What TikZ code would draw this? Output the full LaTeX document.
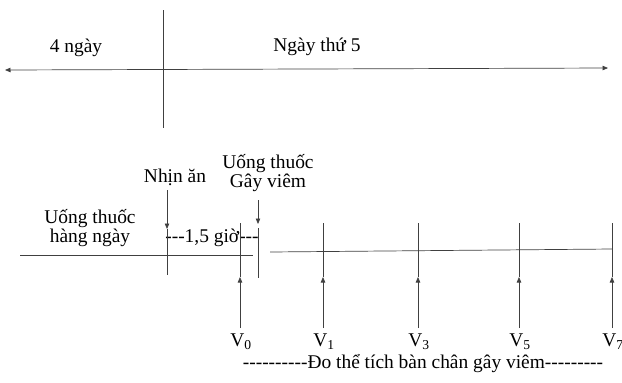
\documentclass[tikz,border=0pt]{standalone}
\usepackage{fontspec}
\setmainfont{Liberation Serif}
\usetikzlibrary{arrows.meta}

\begin{document}
\begin{tikzpicture}[x=1bp, y=-1bp,
  font=\fontsize{19.5}{22}\selectfont,
  ln/.style={draw=black!75, line width=0.7bp},
  tip/.tip={Triangle[length=5.5bp, width=4.5bp]},
  a/.style={ln, -tip},
  lbl/.style={inner sep=0pt, align=center}
]
\useasboundingbox (0,0) rectangle (622,382);
% days
\coordinate (dl) at (5,70);
\coordinate (dr) at (608,68);
\coordinate (dt) at (163,10);
\coordinate (db) at (163,128);
\draw[ln, tip-tip] (dl) -- (dr);
\draw[ln] (dt) -- (db);
\node[lbl] (four) at (76,48) {4 ngày};
\node[lbl] (fifth) at (317,47) {Ngày thứ 5};
% time line
\coordinate (ll) at (20,255);
\coordinate (lr) at (253,255);
\coordinate (rl) at (270,252);
\coordinate (rr) at (612,249);
\draw[ln] (ll) -- (lr);
\draw[ln] (rl) -- (rr);
\node[lbl] (daily) at (90,228) {Uống thuốc\\[-3pt]hàng ngày};
\node[lbl] (fast) at (175,177) {Nhịn ăn};
\node[lbl] (induce) at (268,173) {Uống thuốc\\[-3pt]Gây viêm};
\node[lbl] (gap) at (212,238) {-{}-{}-1,5 giờ-{}-{}-};
% fasting and inducing marks
\coordinate (f1) at (167,190);
\coordinate (f2) at (167,229);
\coordinate (f3) at (167,275);
\draw[a] (f1) -- (f2);
\draw[ln] (f2) -- (f3);
\coordinate (g1) at (258,200);
\coordinate (g2) at (258,224);
\coordinate (g3) at (258,228);
\coordinate (g4) at (258,278);
\draw[a] (g1) -- (g2);
\draw[ln] (g3) -- (g4);
% measurements
\foreach \n/\x in {0/240,1/323,3/418,5/519,7/612}{
  \coordinate (t\n) at (\x,223);
  \coordinate (m\n) at (\x,277);
  \coordinate (b\n) at (\x,328);
  \draw[ln] (t\n) -- (m\n);
  \draw[a] (b\n) -- (m\n);
  \node[lbl] (v\n) at (\x+1,342) {V\textsubscript{\n}};
}
\node[lbl] (measure) at (423,364) {-{}-{}-{}-{}-{}-{}-{}-{}-{}-Đo thể tích bàn chân gây viêm-{}-{}-{}-{}-{}-{}-{}-{}-};
\end{tikzpicture}
\end{document}
